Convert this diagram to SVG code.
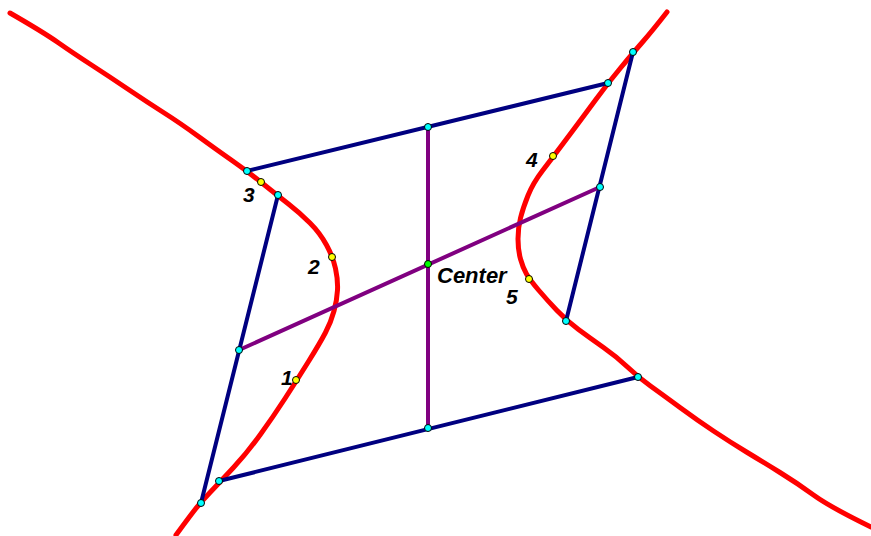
<svg xmlns="http://www.w3.org/2000/svg" width="871" height="536" viewBox="0 0 871 536">
<style>
.curve{fill:none;stroke:#ff0000;stroke-width:5;stroke-linejoin:round;stroke-linecap:round}
.side{stroke:#000080;stroke-width:4;stroke-linecap:round}
.axis{stroke:#800080;stroke-width:4;stroke-linecap:round}
.pt{stroke:#000;stroke-width:1}
.cyan{fill:#00ffff}
.yel{fill:#ffff00}
.grn{fill:#00ff00}
.lbl{font-family:"Liberation Sans",Arial,sans-serif;font-weight:bold;font-style:italic;font-size:21px;fill:#000}
.big{font-size:22px}
</style>
<rect width="871" height="536" fill="#fff"/>
<g id="hyperbola">
<path class="curve" d="M10,13 Q43,32 58,42.5 Q73,53 91.5,65 Q110,77 128.5,89.5 Q147,102 163.5,112.5 Q180,123 198.5,136.5 Q217,150 232,160.5 Q247,171 262,183 Q277,195 288.5,204 Q300,213 310,223 Q320,233 326.5,245 Q333,257 335.5,268.5 Q338,280 337.5,290 Q337,300 334,311 Q331,322 325.5,332.5 Q320,343 308.5,361.5 Q297,380 285,398.5 Q273,417 260,435 Q247,453 233.5,467.5 Q220,482 210,492.5 Q200,503 193.5,511.5 Q187,520 176,535"/>
<path class="curve" d="M667,12 Q653,30 643,41.5 Q633,53 620.5,68 Q608,83 595.5,100 Q583,117 568,137 Q553,157 543,170 Q533,183 528,195.5 Q523,208 520.5,218 Q518,228 518,239 Q518,250 520.5,259 Q523,268 526.5,274 Q530,280 538.5,290 Q547,300 557,310.5 Q567,321 578.5,329.5 Q590,338 603.5,347.5 Q617,357 627.5,367 Q638,377 650.5,386 Q663,395 680,407.5 Q697,420 713.5,431 Q730,442 746.5,452 Q763,462 780,472.5 Q797,483 813.5,495 Q830,507 871,527"/>
</g>
<g id="connectors">
<line class="side" x1="247" y1="171" x2="608" y2="83"/>
<line class="side" x1="219" y1="481" x2="638" y2="377"/>
<line class="side" x1="278" y1="195" x2="201" y2="503"/>
<line class="side" x1="633" y1="52" x2="566" y2="321"/>
<line class="axis" x1="428" y1="127" x2="428" y2="428"/>
<line class="axis" x1="239" y1="350" x2="600" y2="187"/>
</g>
<g id="vertices">
<circle class="pt cyan" cx="247" cy="171" r="3.5"/>
<circle class="pt cyan" cx="278" cy="195" r="3.5"/>
<circle class="pt cyan" cx="239" cy="350" r="3.5"/>
<circle class="pt cyan" cx="201" cy="503" r="3.5"/>
<circle class="pt cyan" cx="219" cy="481" r="3.5"/>
<circle class="pt cyan" cx="428" cy="428" r="3.5"/>
<circle class="pt cyan" cx="638" cy="377" r="3.5"/>
<circle class="pt cyan" cx="566" cy="321" r="3.5"/>
<circle class="pt cyan" cx="600" cy="187" r="3.5"/>
<circle class="pt cyan" cx="633" cy="52" r="3.5"/>
<circle class="pt cyan" cx="608" cy="83" r="3.5"/>
<circle class="pt cyan" cx="428" cy="127" r="3.5"/>
</g>
<g id="center">
<circle class="pt grn" cx="428" cy="264" r="3.5"/>
<text class="lbl big" x="437" y="283">Center</text>
</g>
<g id="p1"><circle class="pt yel" cx="296" cy="380" r="3.5"/><text class="lbl" x="281" y="385">1</text></g>
<g id="p2"><circle class="pt yel" cx="332" cy="257" r="3.5"/><text class="lbl" x="308" y="274">2</text></g>
<g id="p3"><circle class="pt yel" cx="261" cy="182" r="3.5"/><text class="lbl" x="243" y="202">3</text></g>
<g id="p4"><circle class="pt yel" cx="553" cy="156" r="3.5"/><text class="lbl" x="526" y="167">4</text></g>
<g id="p5"><circle class="pt yel" cx="529" cy="279" r="3.5"/><text class="lbl" x="506" y="304">5</text></g>
</svg>
